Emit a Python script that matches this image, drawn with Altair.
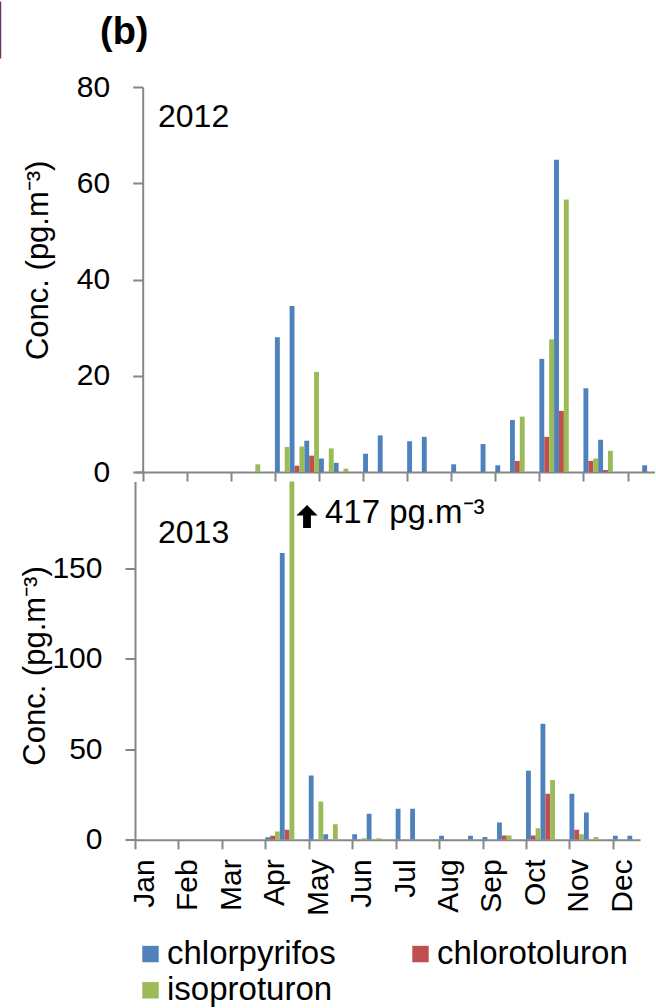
import altair as alt
import pandas as pd

# Month names for the axis and the three compounds with their series colours
months = ["Jan", "Feb", "Mar", "Apr", "May", "Jun", "Jul", "Aug", "Sep", "Oct", "Nov", "Dec"]
compounds = ["chlorpyrifos", "chlorotoluron", "isoproturon"]
colors = ["#4F81BD", "#C0504D", "#9BBB59"]

# Ten-day sampling periods: 0 = 1-10 Jan, 1 = 11-20 Jan, 2 = 21-31 Jan, ...
periods_2012 = [7, 9, 10, 11, 12, 13, 15, 16, 18, 19, 21, 23, 24, 25, 27, 28, 30, 31, 34]
chlorpyrifos_2012 = [0, 28.0, 34.5, 6.5, 2.8, 1.9, 3.8, 7.6, 6.4, 7.3, 1.6, 5.8, 1.4, 10.8, 23.5, 64.9, 17.4, 6.7, 1.4]
chlorotoluron_2012 = [0, 0, 1.3, 3.4, 0, 0, 0, 0, 0, 0, 0, 0, 0, 2.3, 7.3, 12.7, 2.3, 0.4, 0]
isoproturon_2012 = [1.6, 5.2, 5.3, 20.8, 4.9, 0.7, 0, 0, 0, 0, 0, 0, 0, 11.5, 27.6, 56.6, 2.8, 4.4, 0]

periods_2013 = [9, 10, 12, 13, 15, 16, 18, 19, 21, 23, 24, 25, 27, 28, 30, 31, 33, 34]
chlorpyrifos_2013 = [1.4, 158.5, 35.5, 3.1, 3.0, 14.4, 17.1, 17.1, 2.2, 2.2, 1.5, 9.6, 38.1, 64.1, 25.4, 15.1, 2.2, 2.2]
chlorotoluron_2013 = [2.2, 5.5, 0, 0, 0, 0, 0, 0, 0, 0, 0, 2.4, 2.4, 25.4, 5.5, 0, 0, 0]
isoproturon_2013 = [4.6, 417, 21.2, 8.6, 0.8, 0.8, 0, 0, 0, 0, 0, 2.4, 6.4, 33.1, 3.1, 1.5, 0, 0]

y_ticks_2012 = [0, 20, 40, 60, 80]
y_ticks_2013 = [0, 50, 100, 150]
y_max_2012 = 80
y_max_2013 = 198

AXIS_GREY = "#868686"
FONT = "Liberation Sans"
Y_TITLE = "Conc. (pg.m\u207b\u00b3)"
ARROW = "M0,-1 L0.92,-0.08 L0.34,-0.08 L0.34,1 L-0.34,1 L-0.34,-0.08 L-0.92,-0.08 Z"


def long_table(periods, series):
    """One row per non-zero bar; the three compounds sit side by side in a period."""
    rows = []
    for k, (name, values) in enumerate(zip(compounds, series)):
        for p, v in zip(periods, values):
            if v > 0:
                rows.append(dict(period=p, compound=name, value=v,
                                 x0=p + k / 3, x1=p + (k + 1) / 3))
    return pd.DataFrame(rows)


df12 = long_table(periods_2012, [chlorpyrifos_2012, chlorotoluron_2012, isoproturon_2012])
df13 = long_table(periods_2013, [chlorpyrifos_2013, chlorotoluron_2013, isoproturon_2013])

month_ticks = list(range(0, 36, 3))
month_expr = "[" + ",".join(f"'{m}'" for m in months) + "][round(datum.value / 3)]"

axis_style = dict(domainColor=AXIS_GREY, domainWidth=2, tickColor=AXIS_GREY, tickWidth=2,
                  grid=False, labelColor="black", labelFont=FONT, titleFont=FONT,
                  titleColor="black", titleFontWeight="normal")

color_scale = alt.Scale(domain=compounds, range=colors)

# ---------- 2012 panel ----------
bars12 = alt.Chart(df12).mark_bar(clip=True).encode(
    x=alt.X("x0:Q", scale=alt.Scale(domain=[-0.524, 34.87], nice=False, zero=False),
            axis=alt.Axis(values=month_ticks, labels=False, tickSize=9, title=None, **axis_style)),
    x2="x1:Q",
    y=alt.Y("value:Q", scale=alt.Scale(domain=[0, y_max_2012], nice=False),
            axis=alt.Axis(values=y_ticks_2012, offset=-7.7, tickSize=10, labelPadding=23,
                          labelFontSize=30, title=Y_TITLE, titleFontSize=31, titleAngle=270,
                          titleAlign="center", titleBaseline="alphabetic",
                          titleX=-95.2, titleY=172.8, **axis_style)),
    y2=alt.datum(0),
    color=alt.Color("compound:N", scale=color_scale, legend=None),
)

year12 = alt.Chart(pd.DataFrame({"year": ["2012"]})).mark_text(
    font=FONT, fontSize=32, align="left", baseline="alphabetic", color="black"
).encode(text="year:N", x=alt.value(23), y=alt.value(39.5))

panel_tag = alt.Chart(pd.DataFrame({"tag": ["(b)"]})).mark_text(
    font=FONT, fontSize=38, fontWeight="bold", align="left", baseline="alphabetic", color="black"
).encode(text="tag:N", x=alt.value(-35), y=alt.value(-43.5))

edge_line = alt.Chart(pd.DataFrame({"a": [0]})).mark_rule(
    color="#6B2D62", strokeWidth=1.2
).encode(x=alt.value(-134.4), y=alt.value(-85.5), y2=alt.value(-28.5))

top = alt.layer(bars12, year12, panel_tag, edge_line).properties(width=520, height=385)

# ---------- 2013 panel ----------
bars13 = alt.Chart(df13).mark_bar(clip=True).encode(
    x=alt.X("x0:Q", scale=alt.Scale(domain=[0, 34.87], nice=False, zero=False),
            axis=alt.Axis(values=month_ticks, labelExpr=month_expr, labelAngle=270,
                          labelAlign="right", labelBaseline="middle", labelOffset=9.4,
                          labelPadding=10, labelFontSize=30, labelFlush=False,
                          labelOverlap=False, tickSize=9, title=None, **axis_style)),
    x2="x1:Q",
    y=alt.Y("value:Q", scale=alt.Scale(domain=[0, y_max_2013], nice=False),
            axis=alt.Axis(values=y_ticks_2013, tickSize=10, labelPadding=23, labelFontSize=30,
                          title=Y_TITLE, titleFontSize=31, titleAngle=270, titleAlign="center",
                          titleBaseline="alphabetic", titleX=-90.8, titleY=184, **axis_style)),
    y2=alt.datum(0),
    color=alt.Color("compound:N", scale=color_scale,
                    legend=alt.Legend(orient="none", legendX=-1, legendY=455.8, columns=2,
                                      direction="horizontal",
                                      title=None, symbolType="square", symbolSize=270,
                                      symbolStrokeWidth=0, labelFontSize=33, labelFont=FONT,
                                      labelColor="black", labelOffset=0, columnPadding=68,
                                      rowPadding=2.5, labelLimit=500, padding=0)),
)

# Off-scale value: arrow and label next to the clipped bar
over = df13[df13["value"] > y_max_2013].copy()
over["label"] = over["value"].map(lambda v: f"{v:.0f} pg.m\u207b\u00b3")

arrow = alt.Chart(over).mark_point(
    shape=ARROW, filled=True, color="black", opacity=1, size=529, xOffset=12.7
).encode(x="x1:Q", y=alt.value(35))

over_label = alt.Chart(over).mark_text(
    font=FONT, fontSize=33, align="left", baseline="alphabetic", color="black", dx=30.7
).encode(x="x1:Q", y=alt.value(41.7), text="label:N")

year13 = alt.Chart(pd.DataFrame({"year": ["2013"]})).mark_text(
    font=FONT, fontSize=32, align="left", baseline="alphabetic", color="black"
).encode(text="year:N", x=alt.value(23), y=alt.value(61.7))

bottom = alt.layer(bars13, arrow, over_label, year13).properties(width=505, height=358.3)

chart = alt.vconcat(top, bottom, spacing=9.5, bounds="flush").resolve_scale(
    x="independent", y="independent", color="independent"
).properties(padding=0).configure_view(stroke=None)

chart.save("out.html", embed_options={"renderer": "svg", "actions": False})
